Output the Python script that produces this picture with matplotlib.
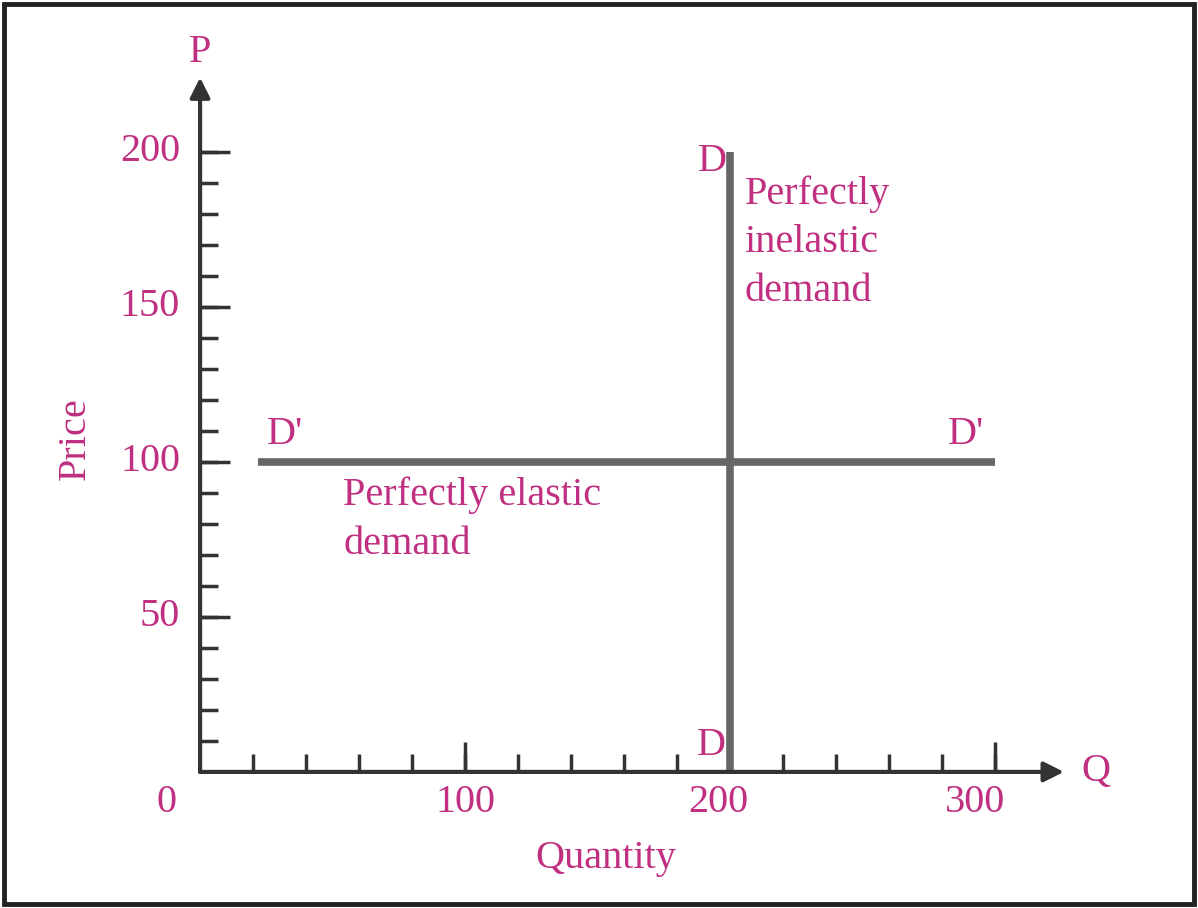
import matplotlib
matplotlib.use("Agg")
import matplotlib.pyplot as plt
from matplotlib.patches import Rectangle

# данные графика
x_minor_ticks = list(range(20, 301, 20))
x_major_ticks = [100, 200, 300]
y_minor_ticks = list(range(10, 201, 10))
y_major_ticks = [50, 100, 150, 200]
x_labels = ["100", "200", "300"]
y_labels = ["50", "100", "150", "200"]

elastic_price = 100
elastic_q = [22, 300]
inelastic_q = 200
inelastic_p = [0, 200]

pink = "#c02f80"
line_gray = "#666666"
axis_col = "#333333"

plt.rcParams["font.family"] = ["Liberation Serif", "DejaVu Serif"]

fig = plt.figure(figsize=(11.98, 9.08), dpi=100)
ax = fig.add_axes([0, 0, 1, 1])
ax.set_xlim(-75.5, 376.6)
ax.set_ylim(-43.9, 249.0)
ax.axis("off")

# рамка вокруг рисунка
fig.patches.append(Rectangle((0.003, 0.004), 0.994, 0.992, transform=fig.transFigure,
                             fill=False, lw=3.5, ec="#222222"))

# оси со стрелками
ax.annotate("", xy=(326, 0), xytext=(0, 0),
            arrowprops=dict(arrowstyle="-|>", lw=3, color=axis_col, mutation_scale=30,
                            shrinkA=0, shrinkB=0))
ax.annotate("", xy=(0, 224), xytext=(0, 0),
            arrowprops=dict(arrowstyle="-|>", lw=3, color=axis_col, mutation_scale=30,
                            shrinkA=0, shrinkB=0))

# деления
ax.vlines(x_minor_ticks, 0, 5.8, color=axis_col, lw=2.5)
ax.vlines(x_major_ticks, 0, 9.7, color=axis_col, lw=2.5)
ax.hlines(y_minor_ticks, 0, 6.8, color=axis_col, lw=2.5)
ax.hlines(y_major_ticks, 0, 11.3, color=axis_col, lw=2.5)

# кривые спроса
ax.plot(elastic_q, [elastic_price, elastic_price], color=line_gray, lw=5.5, solid_capstyle="butt")
ax.plot([inelastic_q, inelastic_q], inelastic_p, color=line_gray, lw=5.5, solid_capstyle="butt")

fs = 29
ax.text(-12.5, -10, "0", color=pink, fontsize=fs, ha="center", va="center")
for xv, lab, dx in zip(x_major_ticks, x_labels, [0, -4.5, -7.5]):
    ax.text(xv + dx, -10, lab, color=pink, fontsize=fs, ha="center", va="center")
for yv, lab in zip(y_major_ticks, y_labels):
    ax.text(-7.5, yv, lab, color=pink, fontsize=fs, ha="right", va="center")

ax.text(0, 232, "P", color=pink, fontsize=fs, ha="center", va="center")
ax.text(338, 0, "Q", color=pink, fontsize=fs, ha="center", va="center")
ax.text(153, -28, "Quantity", color=pink, fontsize=fs, ha="center", va="center")
ax.text(-47, 107.5, "Price", color=pink, fontsize=fs, ha="center", va="center", rotation=90)

ax.text(193.5, 197, "D", color=pink, fontsize=fs, ha="center", va="center")
ax.text(193, 8.5, "D", color=pink, fontsize=fs, ha="center", va="center")
ax.text(32, 109, "D'", color=pink, fontsize=fs, ha="center", va="center")
ax.text(289, 109, "D'", color=pink, fontsize=fs, ha="center", va="center")

ax.text(205.5, 192.5, "Perfectly\ninelastic\ndemand", color=pink, fontsize=fs,
        ha="left", va="top", linespacing=1.42)
ax.text(54, 95.2, "Perfectly elastic\ndemand", color=pink, fontsize=fs,
        ha="left", va="top", linespacing=1.42)

fig.savefig("out.png", dpi=100)
